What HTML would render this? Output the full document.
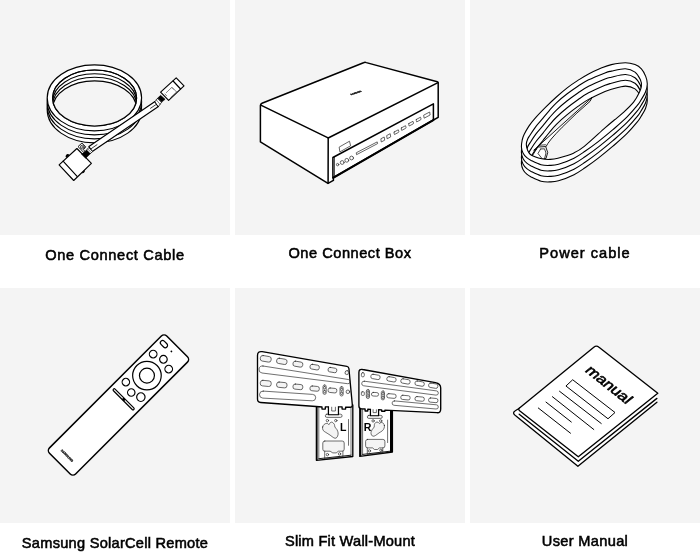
<!DOCTYPE html>
<html><head><meta charset="utf-8">
<style>
html,body{margin:0;padding:0;background:#fff;}
body{width:700px;height:560px;position:relative;overflow:hidden;font-family:"Liberation Sans",sans-serif;}
.tile{position:absolute;width:230px;height:235px;background:#f4f4f4;}
.lbl{position:absolute;width:230px;text-align:center;font-weight:normal;-webkit-text-stroke:.55px #000;font-size:14.6px;line-height:20px;color:#000;white-space:nowrap;will-change:transform;}
svg{position:absolute;left:0;top:0;will-change:transform;}
.w{fill:#fff}.b{fill:#000}.g{fill:#f4f4f4}.t{stroke-width:.75}.n{stroke:none}
</style></head><body>
<div class="tile" style="left:0;top:0"></div>
<div class="tile" style="left:235px;top:0"></div>
<div class="tile" style="left:470px;top:0"></div>
<div class="tile" style="left:0;top:288px"></div>
<div class="tile" style="left:235px;top:288px"></div>
<div class="tile" style="left:470px;top:288px"></div>
<div class="lbl" style="left:0;top:245px;letter-spacing:.66px">One Connect Cable</div>
<div class="lbl" style="left:235px;top:243px;letter-spacing:.52px">One Connect Box</div>
<div class="lbl" style="left:470px;top:243px;letter-spacing:1px">Power cable</div>
<div class="lbl" style="left:0;top:533px;letter-spacing:.26px">Samsung SolarCell Remote</div>
<div class="lbl" style="left:235px;top:530.7px;letter-spacing:.22px">Slim Fit Wall-Mount</div>
<div class="lbl" style="left:470px;top:530.7px;letter-spacing:.33px">User Manual</div>
<svg width="700" height="560" viewBox="0 0 700 560" fill="none" stroke="#000" stroke-width="1.35" stroke-linecap="round" stroke-linejoin="round">
<g id="occ" stroke-width="1.15">
<defs><clipPath id="hole1"><ellipse cx="94.6" cy="98" rx="42" ry="28"/></clipPath></defs>
<ellipse class="w" cx="94.4" cy="109.8" rx="47.2" ry="33"/>
<ellipse class="w" cx="94.4" cy="105.8" rx="47.2" ry="33"/>
<ellipse class="w" cx="94.4" cy="101.8" rx="47.2" ry="33"/>
<ellipse class="w" cx="94.4" cy="97.8" rx="47.2" ry="33"/>
<ellipse class="g" cx="94.6" cy="98" rx="42" ry="28"/>
<g clip-path="url(#hole1)">
<ellipse class="w" cx="94.6" cy="98" rx="42" ry="28"/>
<ellipse class="w" cx="94.6" cy="101.7" rx="42" ry="28"/>
<ellipse class="w" cx="94.6" cy="105.2" rx="42" ry="28"/>
<ellipse class="g" cx="94.6" cy="108.9" rx="42" ry="28"/>
</g>
<ellipse cx="94.6" cy="98" rx="42" ry="28"/>
<!-- cable -->
<path class="w" d="M88.9 146.6L155 101.6L158.4 106.6L92.3 151.6Z"/>
<path class="t" d="M90.6 149.1L97 144.7M156.7 104.1L150.5 108.3"/>
<!-- big connector -->
<path class="b" d="M66.5 157.2a1.6 1.6 0 0 1 2.3 -2.2ZM81.6 172.2a1.6 1.6 0 0 0 2.3 -2.2Z"/>
<path class="w" d="M59.1 164.9L76.9 148.5L91.4 163.4L73.7 180.5Z"/>
<path d="M63.1 161.1L77.1 176.3"/>
<path class="w t" d="M86.600 150L88.800 147.600L92.600 151.500L90.300 153.750Z"/>
<path stroke-width=".5" d="M87.700 148.900L91.400 152.700"/>
<path class="b" stroke-width=".6" d="M81.900 154.100L86.600 150L90.300 153.750L85.900 158.100Z"/>
<path class="w" stroke-width=".9" d="M82.200 143.300L85.700 146.900L83.500 149.600L84.800 151.400L83.600 152.400L81.800 150.300L78.300 146.900Z"/>
<circle cx="82.300" cy="147.100" r="1.9" stroke-width=".7"/>
<circle cx="82.300" cy="147.100" r=".7" stroke-width=".45"/>
<!-- small connector -->
<path class="w" d="M176.2 77.8L184 85.8L168.6 100.4L160.6 92.2Z"/>
<path d="M173.1 81L180.6 89"/>
<path class="t" stroke="#555" d="M166.2 92.7L172 87.2L176.6 92L170.8 97.4M165 94l1.6 1.8M172.6 88.6l.6.6"/>
<path class="w t" d="M155 101.600L157.700 98.100L161.700 102.100L158.400 106.600Z"/><path stroke-width=".5" d="M156.300 99.900L160.100 104.300"/><path class="b" stroke-width=".6" d="M157.700 98.100L160.600 95.300L165.100 99.300L161.700 102.100Z"/>
</g>

<g id="ocb" stroke-width="1.5">
<!-- body -->
<path class="w" d="M260.4 105.6Q260.4 103.9 262 103.2L363.5 62.7Q364.9 62.1 366.3 62.6L437.3 81.8Q438.2 82.1 438.2 83L438.2 117.3L433.4 120L333.4 177.5L333.4 180.400L328 183.400L260.4 141.9Z"/>
<path d="M260.8 105.2L327.6 137.7Q328.4 138 329.2 137.5L438 82.6"/>
<path d="M328.200 138L328.100 183.200"/>
<!-- recess -->
<path d="M332.9 177.8L332.9 157.5L433.4 103.9L433.4 119.8"/>
<path class="t" d="M334.4 176.6L334.4 157"/>
<path stroke-width="2" d="M333.2 177.8L433.3 120.2"/>
<g class="t" stroke="#333">
<path d="M339.5 146.9L349.5 141.2L350.6 145.8L340.2 151.7Z"/>
<circle cx="337.6" cy="164.6" r="1.2"/><circle cx="342.2" cy="162.5" r="1.9"/><circle cx="346.8" cy="160.3" r="1.9"/><circle cx="351.6" cy="158" r="1.9"/>
<path d="M356.6 152.6L377.2 141.9L377.6 143.6L356.9 154.5Z"/>
<path d="M381.2 138.6L384.2 137L384.7 140.2L381.6 141.8ZM387 135.4L390.2 133.7L390.7 136.9L387.5 138.6Z"/>
<path d="M394.2 132L398.3 129.8Q399.3 131.9 398.5 132.4L394.5 134.5Q393.7 133.2 394.2 132ZM401.4 127.9L405.5 125.7Q406.5 127.8 405.7 128.3L401.7 130.4Q400.9 129.100 401.4 127.9ZM408.900 123.5L413 121.3Q414 123.4 413.200 123.9L409.200 126Q408.400 124.700 408.900 123.5ZM416.400 119.400L420.5 117.200Q421.5 119.300 420.700 119.800L416.700 121.900Q415.900 120.600 416.400 119.400Z"/>
<path d="M424 115L429.700 112L430.100 115L424.500 118Z"/>
</g>
<text class="b" stroke-width=".25" font-size="2.2" font-weight="bold" text-anchor="middle" transform="translate(356.6 93.4) rotate(-18.5) skewX(30)">SAMSUNG</text>
</g>

<g id="pwr" stroke-width="1.10">
<defs><path id="po" vector-effect="non-scaling-stroke" d="M521.4 147.0C521.3 144.8 521.8 142.1 522.2 140.0C522.7 137.9 523.0 136.9 524.1 134.6C525.2 132.3 527.1 128.8 528.9 126.1C530.7 123.4 532.2 121.6 535.0 118.4C537.8 115.2 542.1 110.8 545.7 107.2C549.3 103.6 552.8 100.2 556.4 97.0C560.0 93.8 563.6 90.7 567.2 87.9C570.8 85.1 574.3 82.7 577.9 80.4C581.5 78.1 584.8 75.9 588.6 73.9C592.4 71.9 596.9 69.8 600.7 68.2C604.5 66.7 607.3 65.5 611.4 64.6C615.5 63.7 621.5 62.7 625.4 62.7C629.3 62.7 632.3 63.6 635.0 64.6C637.7 65.6 639.6 66.9 641.4 68.9C643.2 70.9 644.7 73.9 645.7 76.4C646.7 78.9 647.3 81.3 647.3 83.9C647.3 86.5 646.5 89.3 645.5 92.0C644.5 94.7 642.4 97.7 641.0 100.0C639.6 102.3 639.4 102.9 637.1 105.7C634.8 108.5 631.1 112.9 627.1 116.9C623.1 120.9 617.6 125.6 612.9 129.7C608.1 133.8 603.2 137.8 598.6 141.4C594.0 145.0 589.1 148.5 585.0 151.3C580.9 154.1 578.4 156.0 574.0 158.2C569.6 160.4 562.6 163.1 558.5 164.3C554.4 165.5 552.4 165.3 549.5 165.4C546.6 165.5 544.1 165.5 541.0 164.7C537.9 163.9 533.5 161.6 531.1 160.4C528.7 159.2 528.1 158.9 526.8 157.7C525.4 156.4 523.9 154.7 523.0 152.9C522.1 151.1 521.5 149.2 521.4 147.0Z"/><path id="pi" vector-effect="non-scaling-stroke" d="M526.3 144.0C526.3 142.2 527.0 140.7 527.6 139.2C528.2 137.7 528.6 137.3 530.0 135.2C531.4 133.0 533.8 129.1 536.0 126.3C538.2 123.5 540.8 120.9 543.0 118.2C545.2 115.5 547.3 112.8 549.5 110.3C551.7 107.8 553.4 105.7 556.4 102.9C559.4 100.1 563.6 96.5 567.2 93.8C570.8 91.0 574.3 88.6 577.9 86.2C581.5 83.9 584.1 82.0 588.6 79.8C593.1 77.6 601.2 74.4 605.0 72.9C608.8 71.5 608.0 71.8 611.4 71.1C614.8 70.4 621.5 68.5 625.4 68.7C629.3 68.9 632.5 70.3 635.0 72.1C637.5 73.9 639.3 77.4 640.4 79.7C641.5 82.0 641.6 84.0 641.4 86.1C641.2 88.2 640.6 89.8 639.3 92.5C638.0 95.2 636.3 98.7 633.6 102.1C630.9 105.5 626.1 109.9 622.9 112.9C619.7 115.9 617.3 117.5 614.3 120.0C611.3 122.5 610.0 123.5 605.0 127.9C600.0 132.3 589.5 142.2 584.3 146.4C579.1 150.6 578.4 150.9 574.0 152.9C569.6 154.9 561.9 157.1 557.9 158.2C553.9 159.3 552.7 159.3 550.0 159.4C547.3 159.5 544.9 159.5 541.8 158.8C538.6 158.1 533.5 156.5 531.1 155.0C528.7 153.5 528.3 151.8 527.5 150.0C526.7 148.2 526.3 145.8 526.3 144.0Z"/>
<clipPath id="ph"><use href="#pi"/></clipPath></defs>
<use href="#po" class="w" transform="matrix(1.0000 -0.0000 0.0000 1.0000 0.00 16.50)"/>
<use href="#po" class="w" transform="matrix(1.0000 -0.0000 0.0000 1.0000 0.00 11.00)"/>
<use href="#po" class="w" transform="matrix(1.0000 -0.0000 0.0000 1.0000 0.00 5.50)"/>
<use href="#po" class="w" transform="matrix(1.0000 -0.0000 0.0000 1.0000 0.00 0.00)"/>
<g clip-path="url(#ph)"><rect class="w n" x="500" y="40" width="180" height="160"/>
<use href="#pi" class="w" transform="matrix(1.0000 -0.0200 0.0000 1.0000 0.00 18.30)"/>
<use href="#pi" class="w" transform="matrix(1.0000 -0.0400 0.0000 1.0000 0.00 36.60)"/>
<use href="#pi" class="g n" transform="matrix(1.0000 -0.0600 0.0000 1.0000 0.00 54.90)"/>
<path class="w" stroke-width=".9" d="M534 150L592 97.500L590 101.400Q576.100 113.200 562.200 127.200T546.100 146.400Z"/>
<use href="#pi" transform="matrix(1.0000 -0.0600 0.0000 1.0000 0.00 54.90)"/>
<path class="w" stroke-width=".9" d="M538.200 147L545.700 146.600L547.700 152.500L546 158.500L541 159.500L532 157Z"/>
<path class="t" d="M540.600 149L544.500 148.800L546 153L544.600 158.500M540.600 149L538 153.500L542 158.500M539.800 145.200L545.500 144.800"/>
</g>
<use href="#pi"/>
</g>

<g id="rmt" transform="translate(119.15 404.1) rotate(-45)">
<rect class="w" stroke-width="1.5" x="-84" y="-18.3" width="165.800" height="36.900" rx="3.8"/>
<g stroke-width="1.2">
<rect x="71.8" y="-14.9" width="4.6" height="8.3" rx="2.3"/>
<circle class="b n" cx="74.200" cy="-.300" r=".9"/>
<circle cx="59.4" cy="-11.3" r="3.8"/><circle cx="63" cy="-.4" r="3.8"/><circle cx="59.8" cy="10.3" r="3.8"/>
<circle cx="39.8" cy="-.5" r="14.3"/><circle cx="39.8" cy="-.5" r="7.5"/>
<circle cx="20.3" cy="-10.8" r="3.7"/><circle cx="16.8" cy=".35" r="3.7"/><circle cx="20.3" cy="10.4" r="4.2"/>
<rect x="5.4" y="-14.6" width="2.3" height="28.800" rx="1.150"/>
<rect class="b n" x="5.4" y="-1.6" width="2.3" height="3"/>
</g>
<text class="b" stroke-width=".2" font-size="3.2" font-weight="bold" text-anchor="middle" transform="translate(-74.400 -.3) rotate(90)">SAMSUNG</text>
</g>

<g id="wm"><style>#wm .t{stroke-width:.65;stroke:#222}</style>
<path class="w" d="M316.4 405L352.8 405L352.8 456.5L316.4 460.3Z"/>
<path class="b n" d="M316.400 405L317.600 405L317.600 460L316.400 460.300Z"/>
<path class="t" d="M318.8 407L318.8 458.7M351 407L351 455.2M348.5 419.500L348.5 445.300"/>
<path stroke-width=".9" d="M318.8 458.7L351 455.2"/>
<path class="w" d="M257.5 355.6Q257.5 350.900 262.200 351.700L346.900 366.300Q348.700 366.600 348.900 368.500L352.3 404.5Q352.500 407.300 350 407.200L349.400 407.200L345.600 407.200L345.600 409.100L342.100 409.100L342.100 406.900L338.400 406.900L338.400 414.700L328.500 414.700L328.500 406.900L325.300 406.900L325.300 409.100L322 409.100L322 407L316.100 406.500L260.700 402.500Q257.500 402.300 257.500 399Z"/>
<rect class="g t" x="260.3" y="356.0" width="10.9" height="5.6" rx="2.3" transform="rotate(9.8 265.7 358.8)"/>
<rect class="g t" x="276.6" y="358.7" width="10.4" height="5.3" rx="2.2" transform="rotate(9.8 281.8 361.4)"/>
<rect class="g t" x="293.0" y="361.6" width="9.8" height="5.1" rx="2.1" transform="rotate(9.8 297.9 364.1)"/>
<rect class="g t" x="310.0" y="364.7" width="9.3" height="4.8" rx="2.0" transform="rotate(9.8 314.6 367.1)"/>
<rect class="g t" x="328.1" y="367.8" width="8.7" height="4.5" rx="1.8" transform="rotate(9.8 332.5 370.0)"/>
<rect class="g t" x="345.1" y="370.6" width="3.4" height="4.0" rx="1.7" transform="rotate(9.8 346.8 372.6)"/>
<path class="t" d="M263.0 366.0L348.3 379.5A2.1 2.1 0 0 1 347.7 383.7L262.0 373.0A3.5 3.5 0 0 1 263.0 366.0Z"/>
<rect class="g t" x="260.3" y="380.6" width="10.9" height="5.6" rx="2.3" transform="rotate(5.5 265.7 383.4)"/>
<rect class="g t" x="276.6" y="382.3" width="10.4" height="5.3" rx="2.2" transform="rotate(5.5 281.8 385.0)"/>
<rect class="g t" x="293.0" y="384.3" width="9.8" height="5.1" rx="2.1" transform="rotate(5.5 297.9 386.8)"/>
<rect class="g t" x="310.0" y="386.2" width="9.3" height="4.8" rx="2.0" transform="rotate(5.5 314.6 388.6)"/>
<rect class="g t" x="328.1" y="388.2" width="8.7" height="4.5" rx="1.8" transform="rotate(5.5 332.5 390.4)"/>
<rect class="w t" x="323.0" y="384.9" width="3.2" height="9.5" rx="1.6" transform="rotate(0.0 324.6 389.6)"/>
<rect class="g t" x="323.6" y="386.4" width="2.0" height="2.6" rx="1.0" transform="rotate(0.0 324.6 387.7)"/>
<rect class="g t" x="323.6" y="390.3" width="2.0" height="2.6" rx="1.0" transform="rotate(0.0 324.6 391.6)"/>
<rect class="w t" x="340.0" y="386.5" width="3.2" height="9.5" rx="1.6" transform="rotate(0.0 341.6 391.2)"/>
<rect class="g t" x="340.6" y="388.0" width="2.0" height="2.6" rx="1.0" transform="rotate(0.0 341.6 389.3)"/>
<rect class="g t" x="340.6" y="391.9" width="2.0" height="2.6" rx="1.0" transform="rotate(0.0 341.6 393.2)"/>
<circle class="g t" cx="347.9" cy="391.8" r="1.8"/>
<path class="t" d="M263.2 391.1L312.7 394.4A3.2 3.2 0 0 1 312.3 400.8L262.8 398.1A3.5 3.5 0 0 1 263.2 391.1Z"/>
<rect class="g t" x="325.3" y="414.2" width="16.8" height="3.2" rx="1.6" transform="rotate(0.0 333.7 415.8)"/>
<path class="w" stroke-width="1.1" d="M328.500 407L328.500 414.700L338.400 414.700L338.400 407"/>
<path class="t" d="M331.700 407.200L331.700 411L335.400 411L335.400 407.200"/>
<circle class="t" cx="327.4" cy="420.6" r="1.2"/><circle class="t" cx="335.8" cy="420.6" r="1.2"/>
<path class="g t" d="M322.6 427.0C322.8 426.0 323.5 425.0 324.2 424.4C324.9 423.8 326.1 423.3 326.9 423.3C327.7 423.3 328.5 424.7 329.0 424.6C329.5 424.5 329.6 423.2 330.1 422.8C330.6 422.4 331.5 421.9 332.2 422.2C332.9 422.5 333.9 423.6 334.4 424.4C334.8 425.2 334.5 426.1 334.9 427.0C335.3 427.9 336.5 428.7 337.0 429.7C337.5 430.7 338.0 431.8 338.1 432.9C338.2 434.0 338.0 435.3 337.6 436.2C337.2 437.1 336.6 437.8 336.0 438.1C335.4 438.4 334.8 438.3 333.8 437.8C332.8 437.3 331.4 436.0 330.1 435.1C328.8 434.2 327.0 433.2 325.8 432.4C324.6 431.6 323.6 431.2 323.1 430.3C322.6 429.4 322.4 428.0 322.6 427.0Z"/>
<path class="g t" d="M324.800 441L342.200 441Q344.200 441 344.200 443L344.200 449.200Q344.200 451.200 342.200 451.200L338.400 451.200L336.200 452.900L332.800 452.900L330.100 451.200L324.800 451.200Q322.800 451.200 322.800 449.200L322.800 443Q322.800 441 324.800 441Z"/>
<path class="t" d="M324.700 451.200L324.700 459L342.900 457L342.900 451.200"/>
<circle class="t" cx="327.4" cy="454.6" r="1.2"/><circle class="t" cx="339.5" cy="453.9" r="1.2"/>
<text class="b n" x="340" y="431" font-size="10.6" font-weight="bold">L</text>
<path class="w" d="M359.8 407L392.4 409L392.4 452L359.8 456.3Z"/>
<path class="b n" d="M390 409.500L392.400 409.500L392.400 452L390 452.300Z"/>
<path class="b n" d="M359.800 408L361.400 408L361.400 456.100L359.800 456.300Z"/>
<path class="t" d="M362.600 409L362.600 454.400M387.600 420.100L387.600 442.600"/>
<path stroke-width=".9" d="M362.600 454.400L390.100 451.200"/>
<path class="w" d="M358.9 372.6Q358.900 368.700 362.600 369.500L435.500 382.600Q440.700 383.600 440.700 388L440.700 409Q440.700 413 437 412.700L384.900 410.100L384.900 411.200L381.700 411.200L381.700 409.900L378.500 409.700L378.500 415.800L370.500 415.800L370.500 409.300L367.800 409.200L367.800 411L365.100 411L365.100 409L361.500 408.800Q358.900 408.600 358.900 406Z"/>
<rect class="t" x="361.4" y="372.6" width="2.9" height="4.3" rx="1.4" transform="rotate(0.0 362.9 374.7)"/>
<rect class="t" x="370.8" y="374.7" width="9.3" height="4.4" rx="1.9" transform="rotate(10.1 375.4 376.9)"/>
<rect class="t" x="386.8" y="377.1" width="9.3" height="4.4" rx="1.9" transform="rotate(10.1 391.4 379.3)"/>
<rect class="t" x="400.8" y="379.2" width="9.3" height="4.4" rx="1.9" transform="rotate(10.1 405.4 381.4)"/>
<rect class="t" x="415.0" y="381.4" width="9.3" height="4.4" rx="1.9" transform="rotate(10.1 419.6 383.6)"/>
<rect class="t" x="428.6" y="383.5" width="9.3" height="4.4" rx="1.9" transform="rotate(10.1 433.2 385.7)"/>
<path class="t" d="M364.3 381.2L436.5 390.9A2.1 2.1 0 0 1 435.9 395.1L363.7 385.8A2.3 2.3 0 0 1 364.3 381.2Z"/>
<rect class="t" x="361.4" y="391.8" width="2.9" height="3.6" rx="0.8" transform="rotate(0.0 362.9 393.6)"/>
<rect class="w t" x="366.3" y="389.5" width="3.2" height="9.0" rx="1.6" transform="rotate(0.0 367.9 394.0)"/>
<rect class="g t" x="366.9" y="390.9" width="2.0" height="2.5" rx="1.0" transform="rotate(0.0 367.9 392.2)"/>
<rect class="g t" x="366.9" y="394.6" width="2.0" height="2.5" rx="1.0" transform="rotate(0.0 367.9 395.9)"/>
<rect class="t" x="371.4" y="392.5" width="7.2" height="3.6" rx="1.8" transform="rotate(3.0 375.0 394.3)"/>
<rect class="w t" x="381.3" y="390.9" width="3.2" height="9.0" rx="1.6" transform="rotate(0.0 382.9 395.4)"/>
<rect class="g t" x="381.9" y="392.4" width="2.0" height="2.5" rx="1.0" transform="rotate(0.0 382.9 393.6)"/>
<rect class="g t" x="381.9" y="396.1" width="2.0" height="2.5" rx="1.0" transform="rotate(0.0 382.9 397.3)"/>
<rect class="t" x="386.8" y="393.9" width="9.3" height="4.2" rx="1.8" transform="rotate(5.5 391.4 396.0)"/>
<rect class="t" x="400.8" y="395.5" width="9.3" height="4.2" rx="1.8" transform="rotate(5.5 405.4 397.6)"/>
<rect class="t" x="415.0" y="396.8" width="9.3" height="4.2" rx="1.8" transform="rotate(5.5 419.6 398.9)"/>
<rect class="t" x="428.6" y="398.2" width="9.3" height="4.2" rx="1.8" transform="rotate(5.5 433.2 400.3)"/>
<path class="t" d="M394.5 400.9L436.4 404.8A2.1 2.1 0 0 1 436.0 409.0L394.1 405.3A2.2 2.2 0 0 1 394.5 400.9Z"/>
<rect class="g t" x="367.3" y="415.4" width="15.0" height="3.0" rx="1.5" transform="rotate(0.0 374.8 416.9)"/>
<path class="w" stroke-width="1.1" d="M370.500 409.300L370.500 415.800L378.500 415.800L378.500 409.700"/>
<path class="t" d="M373.100 409.600L373.100 412.600L376.400 412.600L376.400 409.800"/>
<circle class="t" cx="373.1" cy="420.9" r="1.2"/><circle class="t" cx="380.7" cy="420.9" r="1.2"/>
<path class="g t" d="M384.4 425.4C384.3 424.6 383.8 423.8 383.3 423.3C382.8 422.8 381.9 422.4 381.2 422.4C380.5 422.4 379.9 423.5 379.4 423.5C378.9 423.5 378.6 422.4 378.0 422.2C377.4 422.0 376.4 422.0 375.8 422.4C375.2 422.8 374.7 423.6 374.4 424.4C374.1 425.2 374.6 426.1 374.2 427.0C373.8 427.9 372.6 428.8 372.1 429.7C371.6 430.6 371.1 431.5 371.0 432.4C370.9 433.3 371.1 434.5 371.5 435.1C371.9 435.7 372.5 436.1 373.1 436.2C373.7 436.3 374.3 436.2 375.3 435.6C376.3 435.1 377.8 433.7 379.0 432.9C380.2 432.1 381.4 431.6 382.3 430.8C383.2 430.0 383.8 429.0 384.1 428.1C384.5 427.2 384.5 426.2 384.4 425.4Z"/>
<path class="g t" d="M367.600 439.400L382.900 439.400Q384.900 439.400 384.900 441.400L384.900 445.900Q384.900 447.900 382.900 447.900L379.500 447.900L377.500 449.500L374.500 449.500L372.500 447.900L367.600 447.900Q365.600 447.900 365.600 445.900L365.600 441.400Q365.600 439.400 367.600 439.400Z"/>
<path class="t" d="M367.300 447.900L367.300 454.600L382.800 452.900L382.800 447.900"/>
<circle class="t" cx="369.400" cy="450.900" r="1.2"/><circle class="t" cx="380.900" cy="450.300" r="1.2"/>
<text class="b n" x="363.700" y="431" font-size="10.6" font-weight="bold">R</text>
</g>

<g id="man">
<!-- pages/back -->
<path class="w n" d="M517.500 408.400Q512.500 411 514 414Q514.800 415.300 516 416L577.900 466.250L656.900 402.200L657.800 393.300L597 345.500Z"/>
<path d="M519.500 407.900C516 410.800 512.300 411.500 514 414.200Q514.800 415.300 516 416L577.900 466.250L656.900 402.200"/>
<!-- cover -->
<path class="w" d="M578.300 456.700L519.600 410.700Q517.900 409.300 519.500 407.900L593.800 347.200Q596.400 345 599 347.200L657.800 393.300Z"/>
<path d="M519.200 414.200L578.300 461.200L656.900 398.400"/>
<g stroke-width="1">
<path d="M538.300 408L570.500 433.200M546 402.100L571.300 422M552.400 396.700L593.800 429.500M559.500 391.250L601.250 423.500"/>
<path d="M573 380L615 412.500L608 418.750L566.250 386.250Z"/>
</g>
<text class="b" stroke-width=".7" font-size="16.4" transform="matrix(.78 .625 -.68 .56 584.3 370.9)">manual</text>
</g>

</svg>
</body></html>
